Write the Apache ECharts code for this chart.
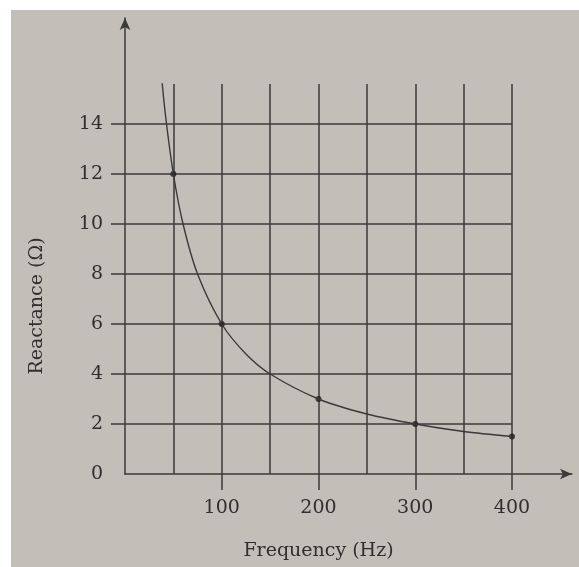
<!DOCTYPE html>
<html>
<head>
<meta charset="utf-8">
<script src="https://cdn.jsdelivr.net/npm/echarts@6/dist/echarts.min.js"></script>
<style>
html,body{margin:0;padding:0;background:#ffffff;}
#paper{position:absolute;left:11px;top:10px;width:568px;height:557px;background:#c2bfb9;}
#c{position:absolute;left:0;top:0;width:579px;height:567px;}
</style>
</head>
<body>
<div id="paper"></div>
<div id="c"></div>
<script>
// Data
const curveData = [[37,16.2],[42,14.3],[50,12],[60,10],[75,8],[100,6],[125,4.8],[150,4],[200,3],[250,2.4],[300,2],[350,1.7],[400,1.5]];
const pointData = [[50,12],[100,6],[200,3],[300,2],[400,1.5]];
const xLabelValues = [100,200,300,400];
const yLabelValues = [0,2,4,6,8,10,12,14];
const yTickValues = [2,4,6,8,10,12,14];

const ink = '#3a3a3a';
const txt = '#2f2f2f';
const font = 'DejaVu Serif';

const chart = echarts.init(document.getElementById('c'), null, {renderer:'canvas'});
chart.setOption({
  backgroundColor: 'transparent',
  animation: false,
  grid: [
    {left:125, right:67, top:84, bottom:93},
    {left:125, right:7, top:18, bottom:93}
  ],
  xAxis: [
    {
      gridIndex:0, type:'value', min:0, max:400, interval:100,
      name:'Frequency (Hz)', nameLocation:'middle', nameGap:68,
      nameTextStyle:{fontFamily:font, fontSize:19, color:txt},
      axisLine:{show:false},
      axisTick:{show:true, customValues:xLabelValues, length:16, lineStyle:{color:ink, width:1.5}},
      axisLabel:{customValues:xLabelValues, margin:25, fontFamily:font, fontSize:19, color:txt},
      splitLine:{show:true, lineStyle:{color:ink, width:1.5}},
      minorTick:{show:false, splitNumber:2},
      minorSplitLine:{show:true, lineStyle:{color:ink, width:1.5}}
    },
    {
      gridIndex:1, type:'value', min:0, max:1,
      axisLine:{show:true, symbol:['none','arrow'], symbolSize:[8,12], lineStyle:{color:ink, width:1.5}},
      axisTick:{show:false}, axisLabel:{show:false}, splitLine:{show:false}
    }
  ],
  yAxis: [
    {
      gridIndex:0, type:'value', min:0, max:15.6, interval:2,
      name:'Reactance (Ω)', nameLocation:'middle', nameGap:78,
      nameTextStyle:{fontFamily:font, fontSize:19, color:txt, padding:[0,54,0,0]},
      axisLine:{show:false},
      axisTick:{show:true, customValues:yTickValues, length:14, lineStyle:{color:ink, width:1.5}},
      axisLabel:{customValues:yLabelValues, margin:22, fontFamily:font, fontSize:19, color:txt},
      splitLine:{show:true, lineStyle:{color:ink, width:1.5}}
    },
    {
      gridIndex:1, type:'value', min:0, max:1,
      axisLine:{show:true, symbol:['none','arrow'], symbolSize:[8,12], lineStyle:{color:ink, width:1.5}},
      axisTick:{show:false}, axisLabel:{show:false}, splitLine:{show:false}
    }
  ],
  series: [
    {
      type:'line', xAxisIndex:0, yAxisIndex:0, data:curveData,
      smooth:0.3, showSymbol:false, clip:true,
      lineStyle:{color:ink, width:1.4}
    },
    {
      type:'scatter', xAxisIndex:0, yAxisIndex:0, data:pointData,
      symbolSize:6, itemStyle:{color:'#1e1e1e'}
    }
  ]
});
</script>
</body>
</html>
